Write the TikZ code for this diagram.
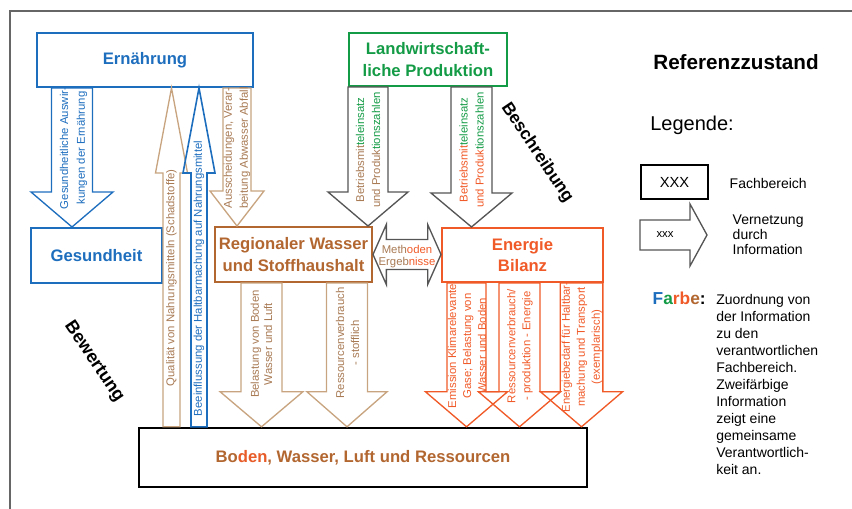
\documentclass[tikz,border=0pt]{standalone}
\usepackage{fontspec}
\setmainfont{Liberation Sans}
\usetikzlibrary{calc}

\definecolor{ernblue}{RGB}{30,110,190}
\definecolor{lwgreen}{RGB}{20,155,70}
\definecolor{regbrown}{RGB}{178,102,48}
\definecolor{tanline}{RGB}{200,165,128}
\definecolor{tantext}{RGB}{168,122,84}
\definecolor{eneorange}{RGB}{240,90,40}
\definecolor{arrgray}{RGB}{85,85,85}

% block arrow: [style]{from}{to}{shaft half width}{head half width}{head length}
\newcommand{\blockarrow}[6][]{%
  \coordinate (ba-h) at ($(#3)!#6!(#2)$);
  \draw[#1] ($(#2)!#4!90:(#3)$) -- ($(ba-h)!#4!90:(#3)$) -- ($(ba-h)!#5!90:(#3)$) -- (#3)
    -- ($(ba-h)!#5!-90:(#3)$) -- ($(ba-h)!#4!-90:(#3)$) -- ($(#2)!#4!-90:(#3)$) -- cycle;
}
% double arrow: [style]{from}{to}{shaft half width}{head half width}{head length}
\newcommand{\dblarrow}[6][]{%
  \coordinate (da-a) at ($(#2)!#6!(#3)$);
  \coordinate (da-b) at ($(#3)!#6!(#2)$);
  \draw[#1] (#2) -- ($(da-a)!#5!90:(#3)$) -- ($(da-a)!#4!90:(#3)$) -- ($(da-b)!#4!-90:(#2)$)
    -- ($(da-b)!#5!-90:(#2)$) -- (#3) -- ($(da-b)!#5!90:(#2)$) -- ($(da-b)!#4!90:(#2)$)
    -- ($(da-a)!#4!-90:(#3)$) -- ($(da-a)!#5!-90:(#3)$) -- cycle;
}

\begin{document}
\begin{tikzpicture}[x=0.75pt, y=-0.75pt,
  box/.style={draw, line width=1.5pt, align=center, inner sep=2pt, font=\fontsize{12.5}{16}\selectfont\bfseries},
  arr/.style={line width=1pt},
  arrtext/.style={rotate=90, align=center, inner sep=0pt, font=\fontsize{8.5}{11.5}\selectfont}]
	%\draw[help lines] (0,0) grid[step=50] (852,509);
	\useasboundingbox (0,0) rectangle (852,509);
	\draw[black!60, line width=0.8pt] (10,509) -- (10,11) -- (852,11);

	\node[box, draw=ernblue, text=ernblue, minimum width=162pt, minimum height=40.5pt] (ern) at (145,60) {Ernährung};
	\node[box, draw=lwgreen, text=lwgreen, minimum width=118.5pt, minimum height=39.75pt] (lw) at (428,59.5) {Landwirtschaft-\\liche Produktion};
	\node[box, draw=ernblue, text=ernblue, minimum width=98.25pt, minimum height=41.25pt] (ges) at (96.5,255.5) {Gesundheit};
	\node[box, draw=regbrown, text=regbrown, minimum width=117.75pt, minimum height=41.25pt] (reg) at (293.5,254.5) {Regionaler Wasser\\und Stoffhaushalt};
	\node[box, draw=eneorange, text=eneorange, minimum width=120.75pt, minimum height=40.5pt] (ene) at (522.5,255) {Energie\\Bilanz};
	\node[box, draw=black, line width=1.8pt, text=regbrown, minimum width=336pt, minimum height=44.25pt] (bod) at (363,457.5) {Bo\textcolor{eneorange!85!regbrown}{den}, Wasser, Luft und Ressourcen};

	\coordinate (a1) at (72,0 |- ern.south);
	\coordinate (a2) at (72,0 |- ges.north);
	\blockarrow[arr, draw=ernblue]{a1}{a2}{15.4pt}{30.75pt}{26.25pt}
	\coordinate (b1) at (171.5,0 |- bod.north);
	\coordinate (b2) at (171.5,0 |- ern.south);
	\blockarrow[arr, draw=tanline]{b1}{b2}{6.4pt}{12pt}{63.75pt}
	\coordinate (c1) at (199,0 |- bod.north);
	\coordinate (c2) at (199,0 |- ern.south);
	\blockarrow[arr, draw=ernblue, line width=1.2pt]{c1}{c2}{6pt}{12pt}{63.75pt}
	\coordinate (d1) at (237,0 |- ern.south);
	\coordinate (d2) at (237,0 |- reg.north);
	\blockarrow[arr, draw=tanline]{d1}{d2}{10.5pt}{20.25pt}{26.25pt}
	\coordinate (e1) at (368,0 |- lw.south);
	\coordinate (e2) at (368,0 |- reg.north);
	\blockarrow[arr, draw=arrgray]{e1}{e2}{15pt}{30pt}{25.5pt}
	\coordinate (f1) at (471.5,0 |- lw.south);
	\coordinate (f2) at (471.5,0 |- ene.north);
	\blockarrow[arr, draw=arrgray]{f1}{f2}{15.4pt}{30.4pt}{25.5pt}
	\coordinate (m1) at (reg.east);
	\coordinate (m2) at (reg.east -| ene.west);
	\dblarrow[arr, draw=arrgray]{m1}{m2}{11.25pt}{22.5pt}{10pt}
	\coordinate (g1) at (261.5,0 |- reg.south);
	\coordinate (g2) at (261.5,0 |- bod.north);
	\blockarrow[arr, draw=tanline]{g1}{g2}{15.4pt}{31pt}{26.25pt}
	\coordinate (h1) at (347,0 |- reg.south);
	\coordinate (h2) at (347,0 |- bod.north);
	\blockarrow[arr, draw=tanline]{h1}{h2}{15.4pt}{30pt}{26.25pt}
	\coordinate (i1) at (466.5,0 |- ene.south);
	\coordinate (i2) at (466.5,0 |- bod.north);
	\blockarrow[arr, draw=eneorange]{i1}{i2}{14.6pt}{30.75pt}{26.25pt}
	\coordinate (j1) at (519.5,0 |- ene.south);
	\coordinate (j2) at (519.5,0 |- bod.north);
	\blockarrow[arr, draw=eneorange]{j1}{j2}{15.4pt}{30.75pt}{26.25pt}
	\coordinate (k1) at (581.5,0 |- ene.south);
	\coordinate (k2) at (581.5,0 |- bod.north);
	\blockarrow[arr, draw=eneorange]{k1}{k2}{16pt}{30.75pt}{26.25pt}

	\node[arrtext, text=ernblue, font=\fontsize{8.5}{12.5}\selectfont] (t1) at (73.5,148) {Gesundheitliche Auswir-\\kungen der Ernährung};
	\node[arrtext, text=tantext] (t2) at (171.5,278) {Qualität von Nahrungsmitteln (Schadstoffe)};
	\node[arrtext, text=ernblue] (t3) at (199,278.5) {Beeinflussung der Haltbarmachung auf Nahrungsmittel};
	\node[arrtext, text=tantext, font=\fontsize{8.5}{12}\selectfont] (t4) at (237,148) {Ausscheidungen, Verar-\\beitung Abwasser Abfall};
	\node[arrtext, font=\fontsize{8.5}{12}\selectfont] (t5) at (368,150) {\textcolor{tantext}{Betriebsmit}\textcolor{lwgreen}{teleinsatz}\\\textcolor{tantext}{und Produk}\textcolor{lwgreen}{tionszahlen}};
	\node[arrtext, font=\fontsize{8.5}{12}\selectfont] (t6) at (471.5,150) {\textcolor{eneorange}{Betriebsmit}\textcolor{lwgreen}{teleinsatz}\\\textcolor{eneorange}{und Produk}\textcolor{lwgreen}{tionszahlen}};
	\node[align=center, inner sep=0pt, font=\fontsize{8.5}{9}\selectfont] (t7) at (407,257) {\textcolor{tantext}{Meth}\textcolor{eneorange}{oden}\\\textcolor{tantext}{Ergeb}\textcolor{eneorange}{nisse}};
	\node[arrtext, text=tantext, font=\fontsize{8.5}{10}\selectfont] (t8) at (261.5,344) {Belastung von Boden\\Wasser und Luft};
	\node[arrtext, text=tantext, font=\fontsize{8.5}{11.25}\selectfont] (t9) at (347.5,343) {Ressourcenverbrauch\\- stofflich};
	\node[arrtext, text=eneorange, font=\fontsize{8.5}{11.25}\selectfont] (t10) at (467,346) {Emission Klimarelevante\\Gase; Belastung von\\Wasser und Boden};
	\node[arrtext, text=eneorange, font=\fontsize{8.5}{11.25}\selectfont] (t11) at (520,346) {Ressourcenverbrauch/\\- produktion - Energie};
	\node[arrtext, text=eneorange, font=\fontsize{8.5}{11.25}\selectfont] (t12) at (582,347) {Energiebedarf für Haltbar-\\machung und Transport\\(exemplarisch)};

	\node[rotate=-56, font=\fontsize{13}{15}\selectfont\bfseries] (besch) at (537,153) {Beschreibung};
	\node[rotate=-56, font=\fontsize{13.5}{15}\selectfont\bfseries] (bew) at (94,362) {Bewertung};

	% Legende
	\node[font=\fontsize{15.5}{18}\selectfont\bfseries] (refz) at (736,62) {Referenzzustand};
	\node[font=\fontsize{15}{18}\selectfont] (lgd) at (692,125) {Legende:};
	\node[box, draw=black, text=black, font=\fontsize{11}{13}\selectfont, minimum width=50.25pt, minimum height=25.5pt] (leg) at (674.5,182) {XXX};
	\node[anchor=west, font=\fontsize{10.5}{12}\selectfont] (legfb) at (725,183) {Fachbereich};
	\coordinate (la1) at (leg.west |- 0,235);
	\coordinate (la2) at (707,235);
	\blockarrow[arr, draw=arrgray]{la1}{la2}{11.25pt}{23.25pt}{12.75pt}
	\node[font=\fontsize{8.5}{10}\selectfont] (legx) at (665,235) {xxx};
	\node[anchor=west, align=left, font=\fontsize{10.5}{11.25}\selectfont] (legvn) at (728,235) {Vernetzung\\durch\\Information};
	\node[anchor=base west, font=\fontsize{13}{15}\selectfont\bfseries] (farbe) at (648,305) {\textcolor{ernblue}{F}\textcolor{lwgreen}{a}\textcolor{eneorange}{rb}\textcolor{regbrown}{e}:};
	\node[anchor=north west, align=left, inner sep=0pt, font=\fontsize{10.5}{12.75}\selectfont] (farbtxt) at (716,294) {Zuordnung von\\der Information\\zu den\\verantwortlichen\\Fachbereich.\\Zweifärbige\\Information\\zeigt eine\\gemeinsame\\Verantwortlich-\\keit an.};
\end{tikzpicture}
\end{document}
